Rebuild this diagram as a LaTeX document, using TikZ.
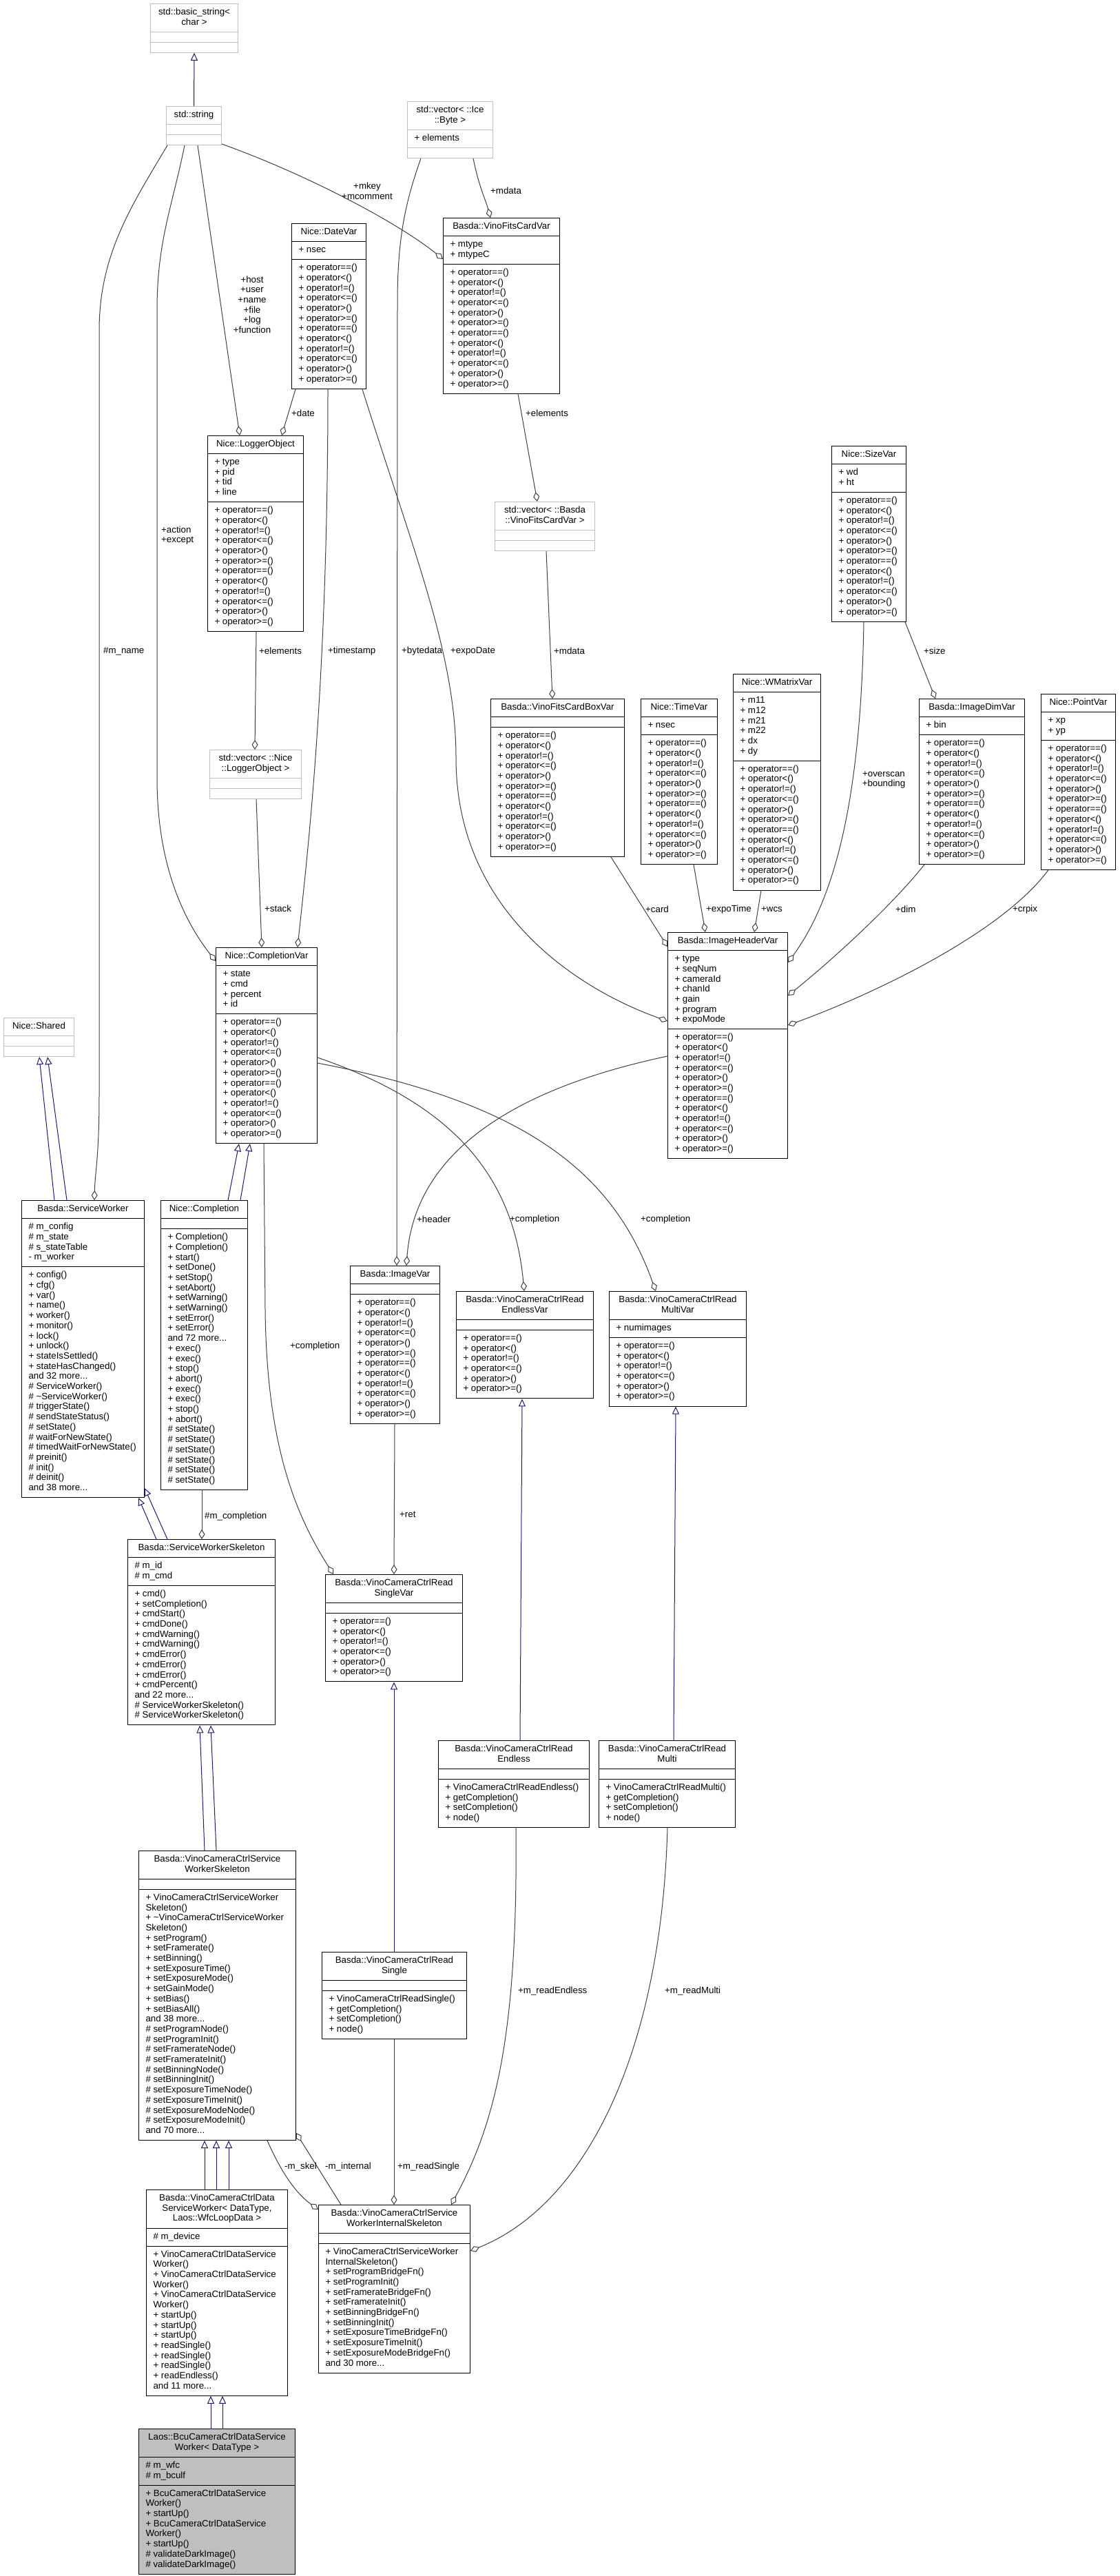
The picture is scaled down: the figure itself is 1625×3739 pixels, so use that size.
\documentclass[tikz,border=0pt]{standalone}
\usepackage{fontspec}
\setmainfont{Liberation Sans}
\usetikzlibrary{shapes.multipart,arrows.meta,calc}
\definecolor{inhblue}{HTML}{191970}
\definecolor{usegray}{HTML}{404040}
\definecolor{boxgray}{HTML}{BFBFBF}
\newcommand\ttl[1]{\begin{tabular}{@{}c@{}}#1\end{tabular}}
\newcommand\lst[1]{\begin{tabular}{@{}l@{}}#1\end{tabular}}
\newcommand\opsix{+ operator==()\\+ operator<()\\+ operator!=()\\+ operator<=()\\+ operator>()\\+ operator>=()}
\newcommand\optw{\opsix\\\opsix}
\tikzset{
 cls/.style={rectangle split, rectangle split parts=3, draw=black, line width=1pt, fill=white,
   inner xsep=10pt, inner ysep=5.2pt, rectangle split part align={center,left,left},
   anchor=north west, font=\fontsize{13.3}{14.7}\selectfont, text=black},
 gcls/.style={cls, draw=boxgray},
 fcls/.style={cls, fill=boxgray},
 lbl/.style={font=\fontsize{13.3}{14.7}\selectfont, inner sep=0pt, align=left, anchor=west},
 clbl/.style={font=\fontsize{13.3}{14.7}\selectfont, inner sep=0pt, align=center, anchor=center},
 inh/.style={draw=inhblue, line width=1pt, -{Triangle[open, length=11pt, width=10pt]}},
 use/.style={draw=usegray, line width=1pt, -{Diamond[open, length=14pt, width=9pt]}},
}
\begin{document}
\begin{tikzpicture}[x=1pt,y=-1pt]
\fill[white] (0,0) rectangle (1625,3739);
\useasboundingbox (0,0) rectangle (1625,3739);

% ---------- nodes ----------
\node[gcls, minimum width=127pt] (basicstr) at (218,5) {\ttl{std::basic\_string<\\char >}\nodepart{two}\lst{}\nodepart{three}\lst{}};
\node[gcls, minimum width=80pt] (stdstring) at (241,154) {\ttl{std::string}\nodepart{two}\lst{}\nodepart{three}\lst{}};
\node[gcls, minimum width=124pt] (vecbyte) at (591,147) {\ttl{std::vector< ::Ice\\::Byte >}\nodepart{two}\lst{+ elements}\nodepart{three}\lst{}};
\node[cls, minimum width=169pt] (fitscard) at (643,316) {\ttl{Basda::VinoFitsCardVar}\nodepart{two}\lst{+ mtype\\+ mtypeC}\nodepart{three}\lst{\optw}};
\node[cls, minimum width=108pt] (datevar) at (423,324) {\ttl{Nice::DateVar}\nodepart{two}\lst{+ nsec}\nodepart{three}\lst{\optw}};
\node[cls, minimum width=139pt] (logger) at (301,632) {\ttl{Nice::LoggerObject}\nodepart{two}\lst{+ type\\+ pid\\+ tid\\+ line}\nodepart{three}\lst{\optw}};
\node[cls, minimum width=108pt] (sizevar) at (1207,647) {\ttl{Nice::SizeVar}\nodepart{two}\lst{+ wd\\+ ht}\nodepart{three}\lst{\optw}};
\node[gcls, minimum width=145pt] (vecfits) at (718,728) {\ttl{std::vector< ::Basda\\::VinoFitsCardVar >}\nodepart{two}\lst{}\nodepart{three}\lst{}};
\node[gcls, minimum width=133pt] (veclog) at (304,1088) {\ttl{std::vector< ::Nice\\::LoggerObject >}\nodepart{two}\lst{}\nodepart{three}\lst{}};
\node[cls, minimum width=194pt] (fitsbox) at (712,1014) {\ttl{Basda::VinoFitsCardBoxVar}\nodepart{two}\lst{}\nodepart{three}\lst{\optw}};
\node[cls, minimum width=111pt] (timevar) at (930,1014) {\ttl{Nice::TimeVar}\nodepart{two}\lst{+ nsec}\nodepart{three}\lst{\optw}};
\node[cls, minimum width=127pt] (wmatrix) at (1064,978) {\ttl{Nice::WMatrixVar}\nodepart{two}\lst{+ m11\\+ m12\\+ m21\\+ m22\\+ dx\\+ dy}\nodepart{three}\lst{\optw}};
\node[cls, minimum width=153pt] (imagedim) at (1334,1014) {\ttl{Basda::ImageDimVar}\nodepart{two}\lst{+ bin}\nodepart{three}\lst{\optw}};
\node[cls, minimum width=108pt] (pointvar) at (1511,1007) {\ttl{Nice::PointVar}\nodepart{two}\lst{+ xp\\+ yp}\nodepart{three}\lst{\optw}};
\node[cls, minimum width=147pt] (cv) at (313,1375) {\ttl{Nice::CompletionVar}\nodepart{two}\lst{+ state\\+ cmd\\+ percent\\+ id}\nodepart{three}\lst{\optw}};
\node[cls, minimum width=174pt] (ihv) at (969,1353) {\ttl{Basda::ImageHeaderVar}\nodepart{two}\lst{+ type\\+ seqNum\\+ cameraId\\+ chanId\\+ gain\\+ program\\+ expoMode}\nodepart{three}\lst{\optw}};
\node[gcls, minimum width=102pt] (shared) at (5,1477) {\ttl{Nice::Shared}\nodepart{two}\lst{}\nodepart{three}\lst{}};
\node[cls, minimum width=178pt] (sw) at (31,1742) {\ttl{Basda::ServiceWorker}\nodepart{two}\lst{\# m\_config\\\# m\_state\\\# s\_stateTable\\- m\_worker}\nodepart{three}\lst{+ config()\\+ cfg()\\+ var()\\+ name()\\+ worker()\\+ monitor()\\+ lock()\\+ unlock()\\+ stateIsSettled()\\+ stateHasChanged()\\and 32 more...\\\# ServiceWorker()\\\# \textasciitilde ServiceWorker()\\\# triggerState()\\\# sendStateStatus()\\\# setState()\\\# waitForNewState()\\\# timedWaitForNewState()\\\# preinit()\\\# init()\\\# deinit()\\and 38 more...}};
\node[cls, minimum width=126pt] (completion) at (233,1742) {\ttl{Nice::Completion}\nodepart{two}\lst{}\nodepart{three}\lst{+ Completion()\\+ Completion()\\+ start()\\+ setDone()\\+ setStop()\\+ setAbort()\\+ setWarning()\\+ setWarning()\\+ setError()\\+ setError()\\and 72 more...\\+ exec()\\+ exec()\\+ stop()\\+ abort()\\+ exec()\\+ exec()\\+ stop()\\+ abort()\\\# setState()\\\# setState()\\\# setState()\\\# setState()\\\# setState()\\\# setState()}};
\node[cls, minimum width=130pt] (imagevar) at (508,1837) {\ttl{Basda::ImageVar}\nodepart{two}\lst{}\nodepart{three}\lst{\optw}};
\node[cls, minimum width=199pt] (endlessvar) at (662,1874) {\ttl{Basda::VinoCameraCtrlRead\\EndlessVar}\nodepart{two}\lst{}\nodepart{three}\lst{\opsix}};
\node[cls, minimum width=199pt] (multivar) at (884,1874) {\ttl{Basda::VinoCameraCtrlRead\\MultiVar}\nodepart{two}\lst{+ numimages}\nodepart{three}\lst{\opsix}};
\node[cls, minimum width=214pt] (sws) at (185,2234) {\ttl{Basda::ServiceWorkerSkeleton}\nodepart{two}\lst{\# m\_id\\\# m\_cmd}\nodepart{three}\lst{+ cmd()\\+ setCompletion()\\+ cmdStart()\\+ cmdDone()\\+ cmdWarning()\\+ cmdWarning()\\+ cmdError()\\+ cmdError()\\+ cmdError()\\+ cmdPercent()\\and 22 more...\\\# ServiceWorkerSkeleton()\\\# ServiceWorkerSkeleton()}};
\node[cls, minimum width=199pt] (rsvar) at (472,2285) {\ttl{Basda::VinoCameraCtrlRead\\SingleVar}\nodepart{two}\lst{}\nodepart{three}\lst{\opsix}};
\node[cls, minimum width=219pt] (readendless) at (636,2526) {\ttl{Basda::VinoCameraCtrlRead\\Endless}\nodepart{two}\lst{}\nodepart{three}\lst{+ VinoCameraCtrlReadEndless()\\+ getCompletion()\\+ setCompletion()\\+ node()}};
\node[cls, minimum width=198pt] (readmulti) at (869,2526) {\ttl{Basda::VinoCameraCtrlRead\\Multi}\nodepart{two}\lst{}\nodepart{three}\lst{+ VinoCameraCtrlReadMulti()\\+ getCompletion()\\+ setCompletion()\\+ node()}};
\node[cls, minimum width=228pt] (vccsws) at (201,2686) {\ttl{Basda::VinoCameraCtrlService\\WorkerSkeleton}\nodepart{two}\lst{}\nodepart{three}\lst{+ VinoCameraCtrlServiceWorker\\Skeleton()\\+ \textasciitilde VinoCameraCtrlServiceWorker\\Skeleton()\\+ setProgram()\\+ setFramerate()\\+ setBinning()\\+ setExposureTime()\\+ setExposureMode()\\+ setGainMode()\\+ setBias()\\+ setBiasAll()\\and 38 more...\\\# setProgramNode()\\\# setProgramInit()\\\# setFramerateNode()\\\# setFramerateInit()\\\# setBinningNode()\\\# setBinningInit()\\\# setExposureTimeNode()\\\# setExposureTimeInit()\\\# setExposureModeNode()\\\# setExposureModeInit()\\and 70 more...}};
\node[cls, minimum width=210pt] (readsingle) at (467,2833) {\ttl{Basda::VinoCameraCtrlRead\\Single}\nodepart{two}\lst{}\nodepart{three}\lst{+ VinoCameraCtrlReadSingle()\\+ getCompletion()\\+ setCompletion()\\+ node()}};
\node[cls, minimum width=205pt] (dsw) at (212,3178) {\ttl{Basda::VinoCameraCtrlData\\ServiceWorker< DataType,\\Laos::WfcLoopData >}\nodepart{two}\lst{\# m\_device}\nodepart{three}\lst{+ VinoCameraCtrlDataService\\Worker()\\+ VinoCameraCtrlDataService\\Worker()\\+ VinoCameraCtrlDataService\\Worker()\\+ startUp()\\+ startUp()\\+ startUp()\\+ readSingle()\\+ readSingle()\\+ readSingle()\\+ readEndless()\\and 11 more...}};
\node[cls, minimum width=220pt] (internal) at (462,3200) {\ttl{Basda::VinoCameraCtrlService\\WorkerInternalSkeleton}\nodepart{two}\lst{}\nodepart{three}\lst{+ VinoCameraCtrlServiceWorker\\InternalSkeleton()\\+ setProgramBridgeFn()\\+ setProgramInit()\\+ setFramerateBridgeFn()\\+ setFramerateInit()\\+ setBinningBridgeFn()\\+ setBinningInit()\\+ setExposureTimeBridgeFn()\\+ setExposureTimeInit()\\+ setExposureModeBridgeFn()\\and 30 more...}};
\node[fcls, minimum width=227pt] (laos) at (201,3525) {\ttl{Laos::BcuCameraCtrlDataService\\Worker< DataType >}\nodepart{two}\lst{\# m\_wfc\\\# m\_bculf}\nodepart{three}\lst{+ BcuCameraCtrlDataService\\Worker()\\+ startUp()\\+ BcuCameraCtrlDataService\\Worker()\\+ startUp()\\\# validateDarkImage()\\\# validateDarkImage()}};

% ---------- inheritance ----------
\draw[inh] (stdstring.north) -- (basicstr.south);
\draw[inh] ($(sw.north west)+(48,0)$) -- ($(shared.south west)+(52,0)$);
\draw[inh] ($(sw.north west)+(66,0)$) -- ($(shared.south west)+(64,0)$);
\draw[inh] ($(completion.north west)+(98,0)$) -- ($(cv.south west)+(34,0)$);
\draw[inh] ($(completion.north west)+(116,0)$) -- ($(cv.south west)+(50,0)$);
\draw[inh] ($(sws.north west)+(42,0)$) -- ($(sw.south west)+(170,0)$);
\draw[inh] ($(sws.north west)+(58,0)$) -- ($(sw.south east)+(0,-14)$);
\draw[inh] ($(vccsws.north west)+(96,0)$) -- ($(sws.south west)+(105,0)$);
\draw[inh] ($(vccsws.north west)+(113,0)$) -- ($(sws.south west)+(121,0)$);
\draw[inh] ($(dsw.north west)+(85,0)$) -- ($(vccsws.south west)+(96,0)$);
\draw[inh] ($(dsw.north west)+(102,0)$) -- ($(vccsws.south west)+(113,0)$);
\draw[inh] ($(dsw.north west)+(120,0)$) -- ($(vccsws.south west)+(131,0)$);
\draw[inh] ($(laos.north west)+(105,0)$) -- ($(dsw.south west)+(94,0)$);
\draw[inh] ($(laos.north west)+(122,0)$) -- ($(dsw.south west)+(111,0)$);
\draw[inh] ($(readendless.north west)+(119,0)$) -- ($(endlessvar.south west)+(96,0)$);
\draw[inh] ($(readmulti.north west)+(109,0)$) -- ($(multivar.south west)+(97,0)$);
\draw[inh] ($(readsingle.north west)+(105,0)$) -- ($(rsvar.south west)+(100,0)$);

% ---------- usage ----------
\draw[use] ($(stdstring.north east)+(0,55)$) .. controls (450,255) and (580,325) .. ($(fitscard.north west)+(0,60)$);
\draw[use] ($(vecbyte.south west)+(96,0)$) .. controls (695,270) and (705,290) .. ($(fitscard.north west)+(69,0)$);
\draw[use] ($(stdstring.south west)+(46,0)$) -- ($(logger.north west)+(47,0)$);
\draw[use] ($(datevar.south west)+(6,0)$) -- ($(logger.north west)+(108,0)$);
\draw[use] ($(fitscard.south west)+(109,0)$) -- ($(vecfits.north west)+(62,0)$);
\draw[use] ($(logger.south west)+(71,0)$) -- ($(veclog.north west)+(66,0)$);
\draw[use] ($(veclog.south west)+(68,0)$) -- ($(cv.north west)+(67,0)$);
\draw[use] ($(datevar.south west)+(53,0)$) .. controls (476,1000) and (445,1250) .. ($(cv.north west)+(119,0)$);
\draw[use] ($(stdstring.south west)+(27,0)$) .. controls (250,300) and (228,350) .. (228,450) -- (228,1130) .. controls (228,1260) and (270,1340) .. ($(cv.north west)+(0,20)$);
\draw[use] ($(stdstring.south west)+(2,0)$) .. controls (190,300) and (144,370) .. (144,480) -- (144,1590) .. controls (144,1680) and (138,1700) .. ($(sw.north west)+(106,0)$);
\draw[use] ($(vecbyte.south west)+(20,0)$) .. controls (590,290) and (577,340) .. (577,440) -- ($(imagevar.north west)+(68,0)$);
\draw[use] ($(datevar.south east)+(-6,0)$) .. controls (600,800) and (662,950) .. (662,1100) .. controls (662,1330) and (850,1440) .. ($(ihv.north west)+(0,129)$);
\draw[use] ($(vecfits.south west)+(75,0)$) -- ($(fitsbox.north west)+(90,0)$);
\draw[use] ($(fitsbox.south west)+(175,0)$) -- ($(ihv.north west)+(0,21)$);
\draw[use] ($(timevar.south west)+(77,0)$) -- ($(ihv.north west)+(55,0)$);
\draw[use] ($(wmatrix.south west)+(41,0)$) -- ($(ihv.north west)+(126,0)$);
\draw[use] ($(sizevar.south west)+(47,0)$) .. controls (1250,1150) and (1215,1300) .. ($(ihv.north east)+(0,44)$);
\draw[use] ($(sizevar.south west)+(107,0)$) -- ($(imagedim.north west)+(24,0)$);
\draw[use] ($(imagedim.south west)+(8,0)$) .. controls (1290,1320) and (1200,1400) .. ($(ihv.north east)+(0,92)$);
\draw[use] ($(pointvar.south west)+(11,0)$) .. controls (1450,1360) and (1250,1450) .. ($(ihv.north east)+(0,135)$);
\draw[use] ($(ihv.north west)+(0,180)$) .. controls (700,1590) and (600,1700) .. ($(imagevar.north west)+(82,0)$);
\draw[use] ($(cv.north east)+(0,160)$) .. controls (650,1600) and (745,1700) .. ($(endlessvar.north west)+(99,0)$);
\draw[use] ($(cv.north east)+(0,168)$) .. controls (760,1600) and (890,1700) .. ($(multivar.north west)+(68,0)$);
\draw[use] ($(cv.south west)+(70,0)$) -- (385,1900) .. controls (387,2100) and (430,2200) .. ($(rsvar.north west)+(12,0)$);
\draw[use] ($(imagevar.south west)+(65,0)$) -- ($(rsvar.north west)+(100,0)$);
\draw[use] ($(completion.south west)+(60,0)$) -- ($(sws.north west)+(108,0)$);
\draw[use] ($(vccsws.south west)+(187,0)$) .. controls (405,3145) and (425,3180) .. ($(internal.north west)+(0,7)$);
\draw[use] ($(internal.north west)+(33,0)$) -- ($(vccsws.north east)+(0,410)$);
\draw[use] ($(readsingle.south west)+(105,0)$) -- ($(internal.north west)+(110,0)$);
\draw[use] ($(readendless.south west)+(113,0)$) .. controls (752,2950) and (720,3080) .. ($(internal.north west)+(193,0)$);
\draw[use] ($(readmulti.south west)+(100,0)$) .. controls (960,2980) and (850,3200) .. ($(internal.north east)+(0,67)$);

% ---------- labels ----------
\node[clbl] (lmkey) at (533,277) {+mkey\\+mcomment};
\node[lbl] (lmdata1) at (712,277) {+mdata};
\node[clbl] (lhost) at (366,442) {+host\\+user\\+name\\+file\\+log\\+function};
\node[lbl] (ldate) at (423,600) {+date};
\node[lbl] (lel1) at (763,600) {+elements};
\node[lbl] (lel2) at (376,945) {+elements};
\node[lbl] (lts) at (476,945) {+timestamp};
\node[lbl] (lbyte) at (583,945) {+bytedata};
\node[lbl] (lexpo) at (654,945) {+expoDate};
\node[lbl] (lmdata2) at (804,945) {+mdata};
\node[lbl] (lsize) at (1341,945) {+size};
\node[clbl] (lover) at (1283,1132) {+overscan\\+bounding};
\node[lbl] (lstack) at (384,1319) {+stack};
\node[lbl] (lcard) at (937,1320) {+card};
\node[lbl] (lexpot) at (1025,1320) {+expoTime};
\node[lbl] (lwcs) at (1105,1320) {+wcs};
\node[lbl] (ldim) at (1300,1320) {+dim};
\node[lbl] (lcrpix) at (1470,1320) {+crpix};
\node[lbl] (lact) at (234,777) {+action\\+except};
\node[lbl] (lname) at (150,945) {\#m\_name};
\node[lbl] (lheader) at (605,1770) {+header};
\node[lbl] (lcomp1) at (740,1770) {+completion};
\node[lbl] (lcomp2) at (930,1770) {+completion};
\node[lbl] (lcomp3) at (421,1954) {+completion};
\node[lbl] (lret) at (580,2198) {+ret};
\node[lbl] (lmcomp) at (297,2201) {\#m\_completion};
\node[lbl] (lskel) at (413,3145) {-m\_skel};
\node[lbl] (lint) at (472,3145) {-m\_internal};
\node[lbl] (lrs) at (577,3145) {+m\_readSingle};
\node[lbl] (lre) at (752,2890) {+m\_readEndless};
\node[lbl] (lrm) at (965,2890) {+m\_readMulti};
\end{tikzpicture}
\end{document}
